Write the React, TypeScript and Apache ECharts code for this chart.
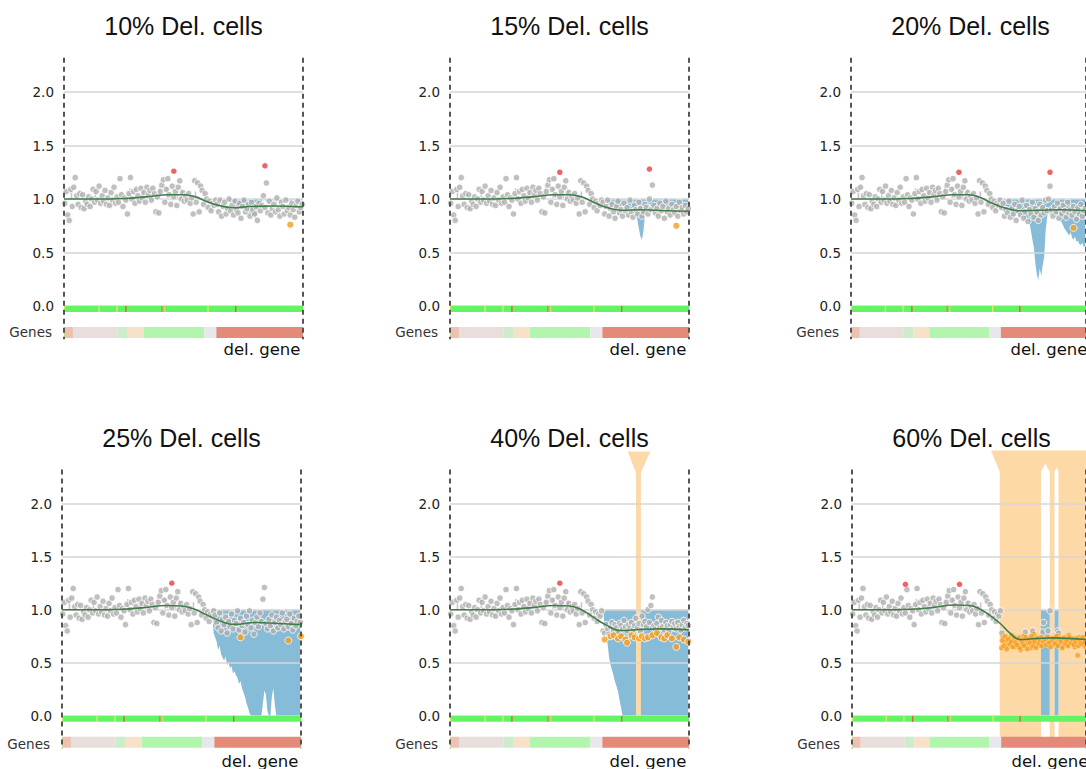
import React, { useEffect, useRef } from 'react';
import * as echarts from 'echarts';

// ---------- data ----------
const TITLES = ['10% Del. cells', '15% Del. cells', '20% Del. cells', '25% Del. cells', '40% Del. cells', '60% Del. cells'];
const Y_LABELS = [0, 0.5, 1, 1.5, 2];
const N_GENES = 160;
const DEL_START = 102; // first gene of the deleted region
const BLUE_START = 100;

// gray ratios of genes 0..101 (identical in every panel)
const LEFT_GRAY = [0.96, 1.07, 0.85, 0.80, 1.09, 0.93, 1.11, 1.20, 1.03, 0.95,
  1.05, 0.92, 1.04, 0.91, 0.98, 0.95, 1.02, 0.93, 1.00, 1.09,
  0.97, 1.07, 0.99, 1.12, 0.96, 1.03, 0.98, 1.08, 0.95, 1.01,
  0.94, 1.06, 0.99, 1.11, 0.96, 1.02, 0.97, 1.19, 1.04, 0.93,
  1.01, 0.99, 0.86, 1.05, 1.20, 1.00, 1.07, 0.96, 1.09, 1.03,
  0.98, 1.10, 1.01, 1.06, 0.97, 1.11, 1.04, 1.08, 0.99, 1.10,
  1.05, 0.88, 1.02, 0.87, 1.07, 1.13, 1.18, 0.97, 1.09, 1.19,
  1.04, 0.95, 1.12, 1.02, 1.07, 0.94, 1.11, 1.17, 1.00, 1.06,
  0.98, 1.03, 0.99, 1.05, 0.96, 1.01, 0.86, 1.17, 0.97, 1.15,
  0.88, 1.12, 1.08, 0.95, 1.05, 1.00, 0.92, 0.98, 0.89, 0.96,
  0.94, 0.99];

// gray ratios of genes 102..159 per panel
const GRAY_10 = [0.95, 0.88, 0.99, 0.84, 0.93, 0.97, 0.86, 0.91, 1.00, 0.89,
  0.94, 0.85, 0.98, 0.90, 0.87, 0.96, 0.82, 0.93, 0.99, 0.88,
  0.91, 0.95, 0.84, 0.97, 0.90, 0.86, 0.93, 0.80, 0.96, 0.89,
  0.94, 1.03, 0.92, 1.15, 0.87, 0.98, 0.85, 0.91, 0.95, 0.88,
  1.01, 0.90, 0.84, 0.97, 0.93, 0.86, 0.99, 0.89, 0.92, 0.85,
  0.96, 0.90, 0.83, 0.94, 0.98, 0.88, 0.92, 0.95];
const GRAY_15 = [0.97, 0.86, 0.93, 0.99, 0.84, 0.91, 0.95, 0.88, 0.82, 0.93,
  0.98, 0.87, 0.90, 0.84, 0.96, 0.89, 0.92, 0.85, 0.99, 0.88,
  0.83, 0.94, 0.90, 0.86, 0.97, 0.91, 0.84, 0.88, 0.95, 0.92,
  0.86, 1.00, 0.90, 1.13, 0.94, 0.87, 0.91, 0.84, 0.96, 0.89,
  0.93, 0.82, 0.98, 0.88, 0.91, 0.85, 0.95, 0.90, 0.87, 0.93,
  0.84, 0.97, 0.89, 0.92, 0.86, 0.94, 0.88, 0.91];
const GRAY_20 = [0.92, 0.96, 0.84, 0.90, 0.87, 0.98, 0.83, 0.91, 0.86, 0.95,
  0.80, 0.89, 0.93, 0.85, 0.99, 0.82, 0.88, 0.94, 0.79, 0.90,
  0.86, 0.97, 0.83, 0.91, 0.88, 0.80, 0.95, 0.85, 0.92, 0.87,
  0.99, 0.89, 1.00, 1.12, 0.90, 0.84, 0.93, 0.88, 0.96, 0.82,
  0.91, 0.86, 0.94, 0.89, 0.83, 0.97, 0.87, 0.90, 0.85, 0.93,
  0.88, 0.81, 0.92, 0.86, 0.95, 0.84, 0.89, 0.91];
const GRAY_25 = [0.95, 0.88, 0.83, 0.97, 0.80, 0.91, 0.86, 0.93, 0.78, 0.89,
  0.84, 0.96, 0.82, 0.90, 0.87, 0.99, 0.81, 0.92, 0.85, 0.88,
  0.79, 0.94, 0.86, 0.99, 0.83, 0.90, 0.77, 0.88, 0.93, 0.84,
  0.97, 0.89, 1.10, 1.21, 0.87, 0.82, 0.91, 0.85, 0.95, 0.80,
  0.88, 0.93, 0.83, 0.90, 0.86, 0.97, 0.82, 0.89, 0.91, 0.84,
  0.96, 0.87, 0.81, 0.92, 0.85, 0.89, 0.94, 0.88];
const GRAY_40 = [0.80, 0.78, 0.86, 0.82, 0.77, 0.84, 0.88, 0.81, 0.86, 0.83,
  0.79, 0.87, 0.85, 0.82, 0.90, 0.84, 0.80, 0.86, 0.83, 0.88,
  0.81, 0.85, 0.92, 0.83, 0.87, 0.80, 0.94, 0.86, 0.89, 0.84,
  1.00, 0.88, 1.04, 1.12, 0.85, 0.82, 0.87, 0.93, 0.83, 0.90,
  0.84, 0.81, 0.88, 0.85, 0.80, 0.86, 0.89, 0.83, 0.87, 0.82,
  0.88, 0.84, 0.81, 0.86, 0.90, 0.83, 0.87, 0.85];
const GRAY_60: [number, number][] = [[102, 0.78], [118, 0.79], [123, 0.80], [130, 0.79], [130.5, 0.88],
  [133.5, 0.80], [135, 0.99], [140, 0.80], [140.8, 0.78]];

// orange (deleted-cell) ratios
const ORANGE_10: [number, number][] = [[151, 0.76]];
const ORANGE_15: [number, number][] = [[151, 0.75]];
const ORANGE_20: [number, number][] = [[151, 0.73]];
const ORANGE_25: [number, number][] = [[119, 0.74], [151, 0.71], [159.5, 0.75]];
const ORANGE_40: [number, number][] = [[103, 0.72], [107, 0.75], [109, 0.76], [112, 0.73], [114, 0.75], [117, 0.72],
  [118, 0.69], [121, 0.76], [123, 0.74], [126, 0.73], [128, 0.75], [130, 0.73], [132, 0.74], [135, 0.76],
  [138, 0.78], [141, 0.74], [143, 0.73], [145, 0.76], [148, 0.73], [151, 0.65], [153, 0.74], [156, 0.72], [159, 0.70]];
const ORANGE_60A = [0.64, 0.74, 0.69, 0.71, 0.66, 0.73, 0.68, 0.76, 0.70, 0.65,
  0.72, 0.67, 0.74, 0.62, 0.70, 0.75, 0.66, 0.71, 0.68, 0.73,
  0.64, 0.70, 0.77, 0.67, 0.72, 0.66, 0.69, 0.74, 0.70, 0.68,
  0.72, 0.69, 0.71, 0.68, 0.73, 0.70, 0.67, 0.70, 0.72, 0.75,
  0.69, 0.72, 0.66, 0.74, 0.70, 0.67, 0.76, 0.71, 0.68, 0.73,
  0.65, 0.70, 0.57, 0.74, 0.69, 0.72, 0.67, 0.71];
const ORANGE_60B = [0.71, 0.66, 0.75, 0.63, 0.72, 0.68, 0.70, 0.65, 0.74, 0.69,
  0.67, 0.73, 0.64, 0.71, 0.68, 0.66, 0.74, 0.63, 0.72, 0.69,
  0.75, 0.66, 0.70, 0.64, 0.73, 0.68, 0.71, 0.66, 0.70, 0.72,
  0.67, 0.74, 0.69, 0.65, 0.71, 0.73, 0.68, 0.75, 0.66, 0.72,
  0.70, 0.64, 0.73, 0.68, 0.71, 0.66, 0.74, 0.69, 0.72, 0.67,
  0.70, 0.73, 0.66, 0.71, 0.68, 0.74, 0.69, 0.65];

// red outliers
const RED_10: [number, number][] = [[73, 1.26], [134, 1.31]];
const RED_15: [number, number][] = [[73, 1.25], [133, 1.28]];
const RED_20: [number, number][] = [[73, 1.25], [135, 1.25]];
const RED_25: [number, number][] = [[73, 1.25]];
const RED_40: [number, number][] = [[73, 1.25]];
const RED_60: [number, number][] = [[36, 1.24], [73, 1.24]];

// smoothed mean
const GREEN_10: [number, number][] = [[0, 1.0], [20, 1.0], [40, 1.005], [55, 1.02], [70, 1.04], [80, 1.04], [88, 1.02], [96, 0.975], [104, 0.94], [113, 0.918], [125, 0.93], [140, 0.935], [160, 0.925]];
const GREEN_15: [number, number][] = [[0, 1.0], [20, 1.0], [40, 1.005], [55, 1.02], [70, 1.04], [80, 1.04], [88, 1.02], [96, 0.97], [104, 0.925], [115, 0.895], [128, 0.9], [145, 0.89], [160, 0.885]];
const GREEN_20: [number, number][] = [[0, 1.0], [20, 1.0], [40, 1.005], [55, 1.02], [70, 1.04], [80, 1.04], [88, 1.015], [96, 0.96], [105, 0.915], [115, 0.89], [128, 0.895], [142, 0.9], [160, 0.89]];
const GREEN_25: [number, number][] = [[0, 1.0], [20, 1.0], [40, 1.005], [55, 1.02], [70, 1.04], [80, 1.035], [88, 1.01], [97, 0.95], [106, 0.895], [115, 0.862], [130, 0.88], [145, 0.87], [160, 0.86]];
const GREEN_40: [number, number][] = [[0, 1.0], [20, 1.0], [40, 1.005], [55, 1.02], [70, 1.04], [80, 1.035], [88, 1.0], [96, 0.93], [104, 0.86], [114, 0.805], [128, 0.815], [140, 0.82], [160, 0.81]];
const GREEN_60: [number, number][] = [[0, 1.0], [20, 1.0], [40, 1.005], [55, 1.02], [70, 1.045], [80, 1.04], [87, 1.01], [94, 0.95], [101, 0.875], [108, 0.78], [115, 0.72], [127, 0.73], [137, 0.735], [160, 0.72]];

// lower bound of the blue band (genes 100..159), band reaches up to 1.0
const BLUE_10 = [1, 1, 0.98, 0.99, 0.97, 1, 0.98, 0.99, 0.97, 0.98,
  0.99, 0.97, 0.96, 0.95, 0.93, 0.94, 0.92, 0.95, 0.93, 0.96,
  0.94, 0.90, 0.92, 0.88, 0.85, 0.87, 0.82, 0.86, 0.80, 0.88,
  0.93, 0.96, 0.98, 1, 0.99, 0.97, 0.98, 1, 0.98, 0.97,
  0.99, 0.98, 0.97, 1, 0.98, 0.99, 0.97, 0.98, 1, 0.98,
  0.99, 0.97, 0.98, 1, 0.98, 0.99, 0.97, 0.98, 0.99, 0.98];
const BLUE_15 = [1, 1, 1, 1, 1, 0.95, 0.93, 0.94, 0.92, 0.95,
  0.93, 0.91, 0.94, 0.90, 0.92, 0.95, 0.91, 0.93, 0.89, 0.92,
  0.90, 0.88, 0.91, 0.86, 0.89, 0.80, 0.72, 0.65, 0.62, 0.70,
  0.85, 0.90, 0.93, 0.96, 0.92, 0.90, 0.94, 0.91, 0.93, 0.89,
  0.92, 0.95, 0.90, 0.93, 0.91, 0.88, 0.92, 0.90, 0.94, 0.91,
  0.89, 0.93, 0.90, 0.92, 0.94, 0.91, 0.90, 0.93, 0.92, 0.91];
const BLUE_20 = [0.97, 0.93, 0.90, 0.91, 0.88, 0.92, 0.89, 0.86, 0.90, 0.87,
  0.80, 0.84, 0.88, 0.85, 0.83, 0.87, 0.84, 0.82, 0.80, 0.79,
  0.82, 0.78, 0.70, 0.62, 0.55, 0.40, 0.30, 0.24, 0.35, 0.28,
  0.38, 0.45, 0.70, 0.83, 0.88, 0.85, 0.87, 0.84, 0.86, 0.82,
  0.85, 0.83, 0.80, 0.78, 0.75, 0.72, 0.70, 0.68, 0.66, 0.69,
  0.64, 0.62, 0.65, 0.60, 0.61, 0.58, 0.57, 0.59, 0.55, 0.56];
const BLUE_25 = [1.0, 0.78, 0.74, 0.70, 0.62, 0.66, 0.58, 0.55, 0.52, 0.56,
  0.48, 0.50, 0.45, 0.47, 0.40, 0.42, 0.38, 0.36, 0.30, 0.33,
  0.26, 0.22, 0.18, 0.12, 0.08, 0.03, 0, 0, 0, 0,
  0, 0, 0, 0, 0.12, 0.24, 0.20, 0.05, 0, 0,
  0.18, 0.26, 0.10, 0, 0, 0, 0, 0, 0, 0,
  0, 0, 0, 0, 0, 0, 0, 0, 0, 0];
const BLUE_40 = [1, 1, 0.98, 0.85, 0.75, 0.68, 0.55, 0.48, 0.43, 0.38,
  0.32, 0.28, 0.23, 0.15, 0.08, 0, 0, 0, 0, 0,
  0, 0, 0, 0, 0, 0, 0, 0, 0, 0,
  0, 0, 0, 0, 0, 0, 0, 0, 0, 0,
  0, 0, 0, 0, 0, 0, 0, 0, 0, 0,
  0, 0, 0, 0, 0, 0, 0, 0, 0, 0];
const BLUE_60: [number, number][] = [[129.2, 1], [129.2, 0], [135.2, 0], [135.2, 1], [138.5, 1], [138.5, 0], [141.2, 0], [141.2, 1]];

// deletion call markers (peach), in data units [gene, ratio]
const PEACH_40: [number, number][][] = [[[124.5, 0], [124.5, 2.29], [119, 2.49], [134, 2.49], [127.8, 2.29], [127.8, 0]]];
const PEACH_60: [number, number][][] = [[[101, -0.2], [101, 2.3], [95, 2.5], [170, 2.5], [170, -0.2]]];
const GAPS_60: [number, number][][] = [
  [[129.2, -0.2], [129.2, 2.3], [132.2, 2.38], [135.2, 2.3], [135.2, -0.2]],
  [[138.5, -0.2], [138.5, 2.3], [139.85, 2.34], [141.2, 2.3], [141.2, -0.2]],
];

// gene annotation strip: [start gene, end gene, colour]
const GENE_SEGMENTS: [number, number, string][] = [[0, 0.6, '#c9d56a'], [0.6, 6, '#eec2b3'], [6, 36, '#e8dfdc'],
  [36, 42.7, '#cdeccb'], [42.7, 53.3, '#f7e2c9'], [53.3, 94, '#b2f6ae'], [94, 102, '#e8e8ec'], [102, 160, '#e48a78']];
// quality strip ticks: [gene, colour]
const STRIP_TICKS: [number, string][] = [[0, '#d2e25c'], [23, '#e6ea5c'], [35, '#d8ee6a'], [41, '#e05a4a'],
  [65, '#e87a5a'], [67, '#e0d26a'], [96, '#e6ea5c'], [114.5, '#e05a4a']];
// small purple spikes: [gene, from, to]
const SPIKES: [number, number, number][] = [[5, 1.0, 1.08], [21, 0.99, 1.06], [44, 1.0, 1.1], [53, 1.01, 1.09],
  [59, 1.0, 1.08], [64, 1.02, 1.12], [69, 1.01, 1.11], [76, 1.0, 1.1], [79, 1.02, 1.09], [88, 1.0, 1.07]];

// ---------- layout ----------
const GRID_LEFT = [64, 450, 851, 62, 450, 852];
const GRID_TOP = [38.5, 38.5, 38.5, 450.5, 450.5, 450.5];
const GRID_W = 239;
const GRID_H = 321;

const GRAY_RIGHT = [GRAY_10, GRAY_15, GRAY_20, GRAY_25, GRAY_40, null];
const ORANGE = [ORANGE_10, ORANGE_15, ORANGE_20, ORANGE_25, ORANGE_40, null];
const RED = [RED_10, RED_15, RED_20, RED_25, RED_40, RED_60];
const GREEN = [GREEN_10, GREEN_15, GREEN_20, GREEN_25, GREEN_40, GREEN_60];
const BLUE = [BLUE_10, BLUE_15, BLUE_20, BLUE_25, BLUE_40, null];

const TICK_FONT = 'DejaVu Sans, sans-serif';

function polygonSeries(p: number, shapes: [number, number][][], color: string, z: number) {
  return {
    type: 'custom', xAxisIndex: p, yAxisIndex: p, z, silent: true, clip: false,
    data: shapes.map((_, i) => [i]),
    renderItem: (_params: any, api: any) => ({
      type: 'polygon',
      shape: { points: shapes[api.value(0)].map((pt) => api.coord(pt)) },
      style: { fill: color },
    }),
  };
}

function buildOption() {
  const grid: any[] = [];
  const xAxis: any[] = [];
  const yAxis: any[] = [];
  const series: any[] = [];
  const graphic: any[] = [];

  for (let p = 0; p < 6; p++) {
    const left = GRID_LEFT[p];
    const top = GRID_TOP[p];
    grid.push({ left, top, width: GRID_W, height: GRID_H, containLabel: false });
    xAxis.push({ gridIndex: p, type: 'value', min: 0, max: N_GENES, show: false });
    yAxis.push({
      gridIndex: p, type: 'value', min: -0.5, max: 2.5, interval: 0.5,
      axisLine: { show: false }, axisTick: { show: false },
      axisLabel: {
        color: '#222', fontSize: 13.5, fontFamily: TICK_FONT, margin: 10,
        formatter: (v: number) => (Y_LABELS.some((t) => Math.abs(t - v) < 1e-6) ? v.toFixed(1) : ''),
      },
      splitLine: { show: true, showMinLine: false, showMaxLine: false, lineStyle: { color: '#d6d6d6', width: 1.5 } },
    });

    // peach deletion markers
    if (p === 4) series.push(polygonSeries(p, PEACH_40, '#fdd9a8', -1));
    if (p === 5) {
      series.push(polygonSeries(p, PEACH_60, '#fdd9a8', -4));
      series.push(polygonSeries(p, GAPS_60, '#ffffff', -3));
    }

    // blue band
    const blueData: [number, number][] = p === 5
      ? BLUE_60
      : (BLUE[p] as number[]).map((v, i) => [BLUE_START + i + 0.5, v] as [number, number]);
    series.push({
      type: 'line', xAxisIndex: p, yAxisIndex: p, data: blueData, symbol: 'none', silent: true,
      z: -2, lineStyle: { width: 0, opacity: 0 },
      areaStyle: { color: '#87bcd8', opacity: 1, origin: 1 },
    });

    // strips
    const rects: any[] = [];
    rects.push({ value: [0, N_GENES, -0.056, 0], itemStyle: { color: '#63f463' } });
    STRIP_TICKS.forEach(([g, c]) => rects.push({ value: [g, g + 0.9, -0.056, 0], itemStyle: { color: c } }));
    GENE_SEGMENTS.forEach(([a, b, c]) => rects.push({ value: [a, b, -0.3, -0.196], itemStyle: { color: c } }));
    series.push({
      type: 'custom', xAxisIndex: p, yAxisIndex: p, z: 3, silent: true, data: rects,
      encode: { x: [0, 1], y: [2, 3] },
      renderItem: (_params: any, api: any) => {
        const a = api.coord([api.value(0), api.value(3)]);
        const b = api.coord([api.value(1), api.value(2)]);
        return { type: 'rect', shape: { x: a[0], y: a[1], width: b[0] - a[0], height: b[1] - a[1] }, style: { fill: api.visual('color') } };
      },
    });

    // purple spikes
    series.push({
      type: 'custom', xAxisIndex: p, yAxisIndex: p, z: 3, silent: true, data: SPIKES,
      encode: { x: 0, y: [1, 2] },
      renderItem: (_params: any, api: any) => {
        const a = api.coord([api.value(0), api.value(1)]);
        const b = api.coord([api.value(0), api.value(2)]);
        return { type: 'line', shape: { x1: a[0], y1: a[1], x2: b[0], y2: b[1] }, style: { stroke: '#dcaeea', lineWidth: 1.5 } };
      },
    });

    // gray points
    const gray: [number, number][] = LEFT_GRAY.map((v, i) => [i + 0.5, v] as [number, number]);
    if (p === 5) GRAY_60.forEach((d) => gray.push([d[0] + 0.5, d[1]]));
    else (GRAY_RIGHT[p] as number[]).forEach((v, i) => gray.push([DEL_START + i + 0.5, v]));
    series.push({
      type: 'scatter', xAxisIndex: p, yAxisIndex: p, data: gray, symbolSize: 6.5, z: 4, silent: true,
      itemStyle: { color: '#b0b0b0', borderColor: '#ffffff', borderWidth: 1 },
      markLine: {
        silent: true, symbol: 'none', label: { show: false },
        lineStyle: { type: [5, 4], color: '#555', width: 2 },
        data: [
          [{ coord: [0, 2.32] }, { coord: [0, -0.31] }],
          [{ coord: [N_GENES, 2.32] }, { coord: [N_GENES, -0.31] }],
        ],
      },
    });

    // orange points
    if (p === 5) {
      const o: [number, number][] = [];
      ORANGE_60A.forEach((v, i) => o.push([DEL_START + i + 0.3, v]));
      ORANGE_60B.forEach((v, i) => o.push([DEL_START + i + 0.8, v]));
      series.push({
        type: 'scatter', xAxisIndex: p, yAxisIndex: p, data: o, symbolSize: 5.5, z: 4, silent: true,
        itemStyle: { color: '#f59d1e', borderColor: '#fde3bd', borderWidth: 0.6 },
      });
    } else {
      series.push({
        type: 'scatter', xAxisIndex: p, yAxisIndex: p, data: (ORANGE[p] as [number, number][]).map((d) => [d[0] + 0.5, d[1]]),
        symbolSize: 7, z: 4, silent: true,
        itemStyle: { color: '#f59d1e', borderColor: '#ffffff', borderWidth: 1 },
      });
    }

    // green smooth line
    series.push({
      type: 'line', xAxisIndex: p, yAxisIndex: p, data: GREEN[p], smooth: 0.45, symbol: 'none', z: 5, silent: true,
      lineStyle: { color: '#3f7d47', width: 1.6 },
    });

    // red outliers
    series.push({
      type: 'scatter', xAxisIndex: p, yAxisIndex: p, data: RED[p].map((d) => [d[0] + 0.5, d[1]]),
      symbolSize: 5.5, z: 6, silent: true, itemStyle: { color: '#ee3b3b' },
    });

    // texts
    const zeroY = top + GRID_H * (2.5 / 3);
    graphic.push({
      type: 'text', x: left + GRID_W / 2, y: zeroY - 280, silent: true,
      style: { text: TITLES[p], fontSize: 25, fontFamily: 'Liberation Sans, Arial, sans-serif', fill: '#111',
        textAlign: 'center', textVerticalAlign: 'middle', align: 'center', verticalAlign: 'middle' },
    });
    graphic.push({
      type: 'text', x: left - 12, y: zeroY + 26, silent: true,
      style: { text: 'Genes', fontSize: 13.5, fontFamily: TICK_FONT, fill: '#333',
        textAlign: 'right', textVerticalAlign: 'middle', align: 'right', verticalAlign: 'middle' },
    });
    graphic.push({
      type: 'text', x: left + GRID_W * (132.5 / N_GENES), y: zeroY + 43, silent: true,
      style: { text: 'del. gene', fontSize: 16.5, fontFamily: TICK_FONT, fill: '#111',
        textAlign: 'center', textVerticalAlign: 'middle', align: 'center', verticalAlign: 'middle' },
    });
  }

  return { animation: false, backgroundColor: '#ffffff', grid, xAxis, yAxis, series, graphic };
}

export default function App() {
  const ref = useRef<HTMLDivElement>(null);
  useEffect(() => {
    document.body.style.margin = '0';
    const chart = echarts.init(ref.current as HTMLDivElement, null, { renderer: 'svg' });
    chart.setOption(buildOption() as any);
    return () => chart.dispose();
  }, []);
  return <div ref={ref} style={{ position: 'fixed', left: 0, top: 0, width: 1086, height: 769, background: '#fff' }} />;
}
